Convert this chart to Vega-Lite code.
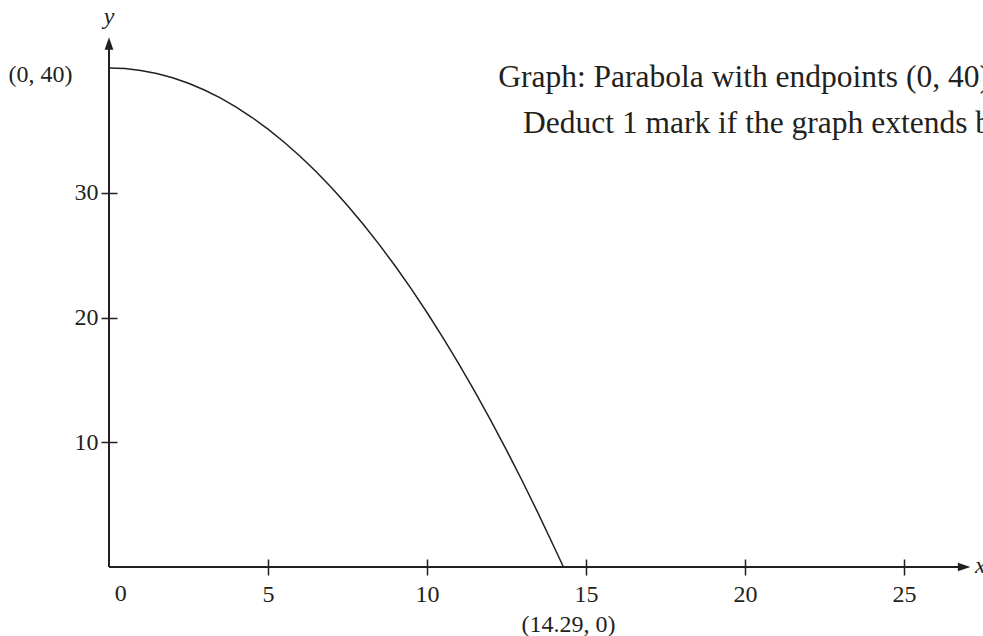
{
  "$schema": "https://vega.github.io/schema/vega-lite/v6.json",
  "width": 874,
  "height": 567,
  "padding": {"left": 109, "top": 0, "right": 0, "bottom": 69},
  "autosize": {"type": "none"},
  "background": "white",
  "config": {
    "view": {"stroke": null},
    "axis": {
      "grid": false,
      "domain": false,
      "title": null,
      "tickColor": "#231f20",
      "tickWidth": 1.5,
      "tickSize": 16,
      "offset": -8,
      "labelFont": "Liberation Serif",
      "labelFontSize": 24,
      "labelColor": "#231f20"
    },
    "text": {"font": "Liberation Serif", "color": "#231f20"}
  },
  "datasets": {
    "curve": [
      {"x": 0, "y": 40}, {"x": 0.5, "y": 39.951}, {"x": 1, "y": 39.804}, {"x": 1.5, "y": 39.559},
      {"x": 2, "y": 39.216}, {"x": 2.5, "y": 38.775}, {"x": 3, "y": 38.236}, {"x": 3.5, "y": 37.599},
      {"x": 4, "y": 36.864}, {"x": 4.5, "y": 36.031}, {"x": 5, "y": 35.1}, {"x": 5.5, "y": 34.071},
      {"x": 6, "y": 32.944}, {"x": 6.5, "y": 31.719}, {"x": 7, "y": 30.396}, {"x": 7.5, "y": 28.975},
      {"x": 8, "y": 27.456}, {"x": 8.5, "y": 25.839}, {"x": 9, "y": 24.124}, {"x": 9.5, "y": 22.311},
      {"x": 10, "y": 20.4}, {"x": 10.5, "y": 18.391}, {"x": 11, "y": 16.284}, {"x": 11.5, "y": 14.079},
      {"x": 12, "y": 11.776}, {"x": 12.5, "y": 9.375}, {"x": 13, "y": 6.876}, {"x": 13.5, "y": 4.279},
      {"x": 14, "y": 1.584}, {"x": 14.29, "y": 0}
    ],
    "axisLines": [
      {"x": 0, "y": 0, "x2": 26.7, "y2": 0},
      {"x": 0, "y": 0, "x2": 0, "y2": 41.5}
    ],
    "arrowHeads": [
      {"x": 26.89, "y": 0, "dir": "right"},
      {"x": 0, "y": 41.96, "dir": "up"}
    ],
    "centredLabels": [
      {"x": 0.37, "y": -2.7, "text": "0"},
      {"x": 14.45, "y": -5.2, "text": "(14.29, 0)"}
    ],
    "pointLabel": [
      {"x": -1.15, "y": 38.9, "text": "(0, 40)"}
    ],
    "axisNames": [
      {"x": 0, "y": 43.53, "text": "y"},
      {"x": 27.4, "y": -0.48, "text": "x"}
    ],
    "notes": [
      {"x": 12.24, "y": 38.45, "text": "Graph: Parabola with endpoints (0, 40) and (14.29, 0)"},
      {"x": 13.02, "y": 34.77, "text": "Deduct 1 mark if the graph extends beyond these endpoints"}
    ]
  },
  "encoding": {
    "x": {
      "field": "x",
      "type": "quantitative",
      "scale": {"domain": [0, 27.484], "nice": false, "zero": false},
      "axis": {"values": [5, 10, 15, 20, 25], "labelPadding": 7}
    },
    "y": {
      "field": "y",
      "type": "quantitative",
      "scale": {"domain": [0, 45.451], "nice": false, "zero": false},
      "axis": {"values": [10, 20, 30], "labelPadding": 3}
    }
  },
  "layer": [
    {
      "data": {"name": "axisLines"},
      "mark": {"type": "rule", "color": "#231f20", "strokeWidth": 2},
      "encoding": {
        "x2": {"field": "x2"},
        "y2": {"field": "y2"}
      }
    },
    {
      "data": {"name": "arrowHeads"},
      "mark": {"type": "point", "filled": true, "opacity": 1, "color": "#231f20", "strokeWidth": 0},
      "encoding": {
        "shape": {
          "field": "dir",
          "type": "nominal",
          "scale": {"domain": ["right", "up"], "range": ["M1,0L-1,-0.7L-1,0.7Z", "M0,-1L0.7,1L-0.7,1Z"]},
          "legend": null
        },
        "size": {"value": 156}
      }
    },
    {
      "data": {"name": "curve"},
      "mark": {"type": "line", "color": "#231f20", "strokeWidth": 1.5},
      "encoding": {"order": {"field": "x", "type": "quantitative"}}
    },
    {
      "data": {"name": "centredLabels"},
      "mark": {"type": "text", "fontSize": 24, "align": "center", "baseline": "alphabetic"},
      "encoding": {"text": {"field": "text"}}
    },
    {
      "data": {"name": "pointLabel"},
      "mark": {"type": "text", "fontSize": 24, "align": "right", "baseline": "alphabetic"},
      "encoding": {"text": {"field": "text"}}
    },
    {
      "data": {"name": "axisNames"},
      "mark": {"type": "text", "fontSize": 24, "fontStyle": "italic", "align": "center", "baseline": "alphabetic"},
      "encoding": {"text": {"field": "text"}}
    },
    {
      "data": {"name": "notes"},
      "mark": {"type": "text", "fontSize": 31.5, "align": "left", "baseline": "alphabetic"},
      "encoding": {"text": {"field": "text"}}
    }
  ]
}
